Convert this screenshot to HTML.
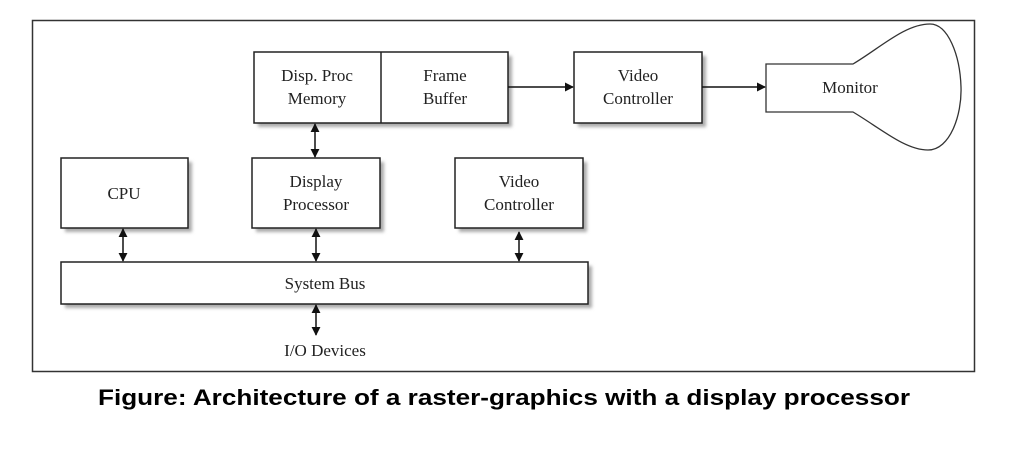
<!DOCTYPE html>
<html><head><style>
html,body{margin:0;padding:0;background:#fff;}
svg{display:block;}
text{font-family:"Liberation Serif",serif;font-size:17px;fill:#222;}
</style></head><body>
<svg width="1024" height="458" viewBox="0 0 1024 458" xmlns="http://www.w3.org/2000/svg">
<defs>
<filter id="sh" x="-10%" y="-10%" width="130%" height="140%"><feGaussianBlur stdDeviation="1.5"/></filter>
<marker id="ah" viewBox="0 0 10 10" refX="9" refY="5" markerWidth="9" markerHeight="9" orient="auto-start-reverse" markerUnits="userSpaceOnUse"><path d="M0,0 L10,5 L0,10 z" fill="#111"/></marker>
</defs>
<rect x="32.5" y="20.5" width="942" height="351" fill="#fff" stroke="#333" stroke-width="1.5"/>
<g fill="#aaa" filter="url(#sh)">
<rect x="258" y="56" width="254" height="71"/>
<rect x="578" y="56" width="128" height="71"/>
<rect x="65" y="162" width="127" height="70"/>
<rect x="256" y="162" width="128" height="70"/>
<rect x="459" y="162" width="128" height="70"/>
<rect x="65" y="266" width="527" height="42"/>
</g>
<g fill="#fff" stroke="#222" stroke-width="1.5">
<rect x="254" y="52" width="254" height="71"/>
<line x1="381" y1="52" x2="381" y2="123"/>
<rect x="574" y="52" width="128" height="71"/>
<rect x="61" y="158" width="127" height="70"/>
<rect x="252" y="158" width="128" height="70"/>
<rect x="455" y="158" width="128" height="70"/>
<rect x="61" y="262" width="527" height="42"/>
</g>
<path d="M853,64 L766,64 L766,112 L853,112 C880,128 905,150 928,150 C950,150 962,115 961,87 C960,55 948,24 930,24 C905,24 880,48 853,64 Z" fill="none" stroke="#333" stroke-width="1.3"/>
<g stroke="#111" stroke-width="1.5">
<line x1="508" y1="87" x2="573" y2="87" marker-end="url(#ah)"/>
<line x1="702" y1="87" x2="765" y2="87" marker-end="url(#ah)"/>
<line x1="315" y1="124" x2="315" y2="157" marker-start="url(#ah)" marker-end="url(#ah)"/>
<line x1="123" y1="229" x2="123" y2="261" marker-start="url(#ah)" marker-end="url(#ah)"/>
<line x1="316" y1="229" x2="316" y2="261" marker-start="url(#ah)" marker-end="url(#ah)"/>
<line x1="519" y1="232" x2="519" y2="261" marker-start="url(#ah)" marker-end="url(#ah)"/>
<line x1="316" y1="305" x2="316" y2="335" marker-start="url(#ah)" marker-end="url(#ah)"/>
</g>
<g text-anchor="middle">
<text x="317" y="81">Disp. Proc</text>
<text x="317" y="104">Memory</text>
<text x="445" y="81">Frame</text>
<text x="445" y="104">Buffer</text>
<text x="638" y="81">Video</text>
<text x="638" y="104">Controller</text>
<text x="850" y="93">Monitor</text>
<text x="124" y="199">CPU</text>
<text x="316" y="187">Display</text>
<text x="316" y="210">Processor</text>
<text x="519" y="187">Video</text>
<text x="519" y="210">Controller</text>
<text x="325" y="289">System Bus</text>
<text x="325" y="356">I/O Devices</text>
<text x="504" y="405" style="font-family:'Liberation Sans',sans-serif;font-weight:bold;font-size:22px;fill:#000" textLength="812" lengthAdjust="spacingAndGlyphs">Figure: Architecture of a raster-graphics with a display processor</text>
</g>
</svg>
</body></html>
